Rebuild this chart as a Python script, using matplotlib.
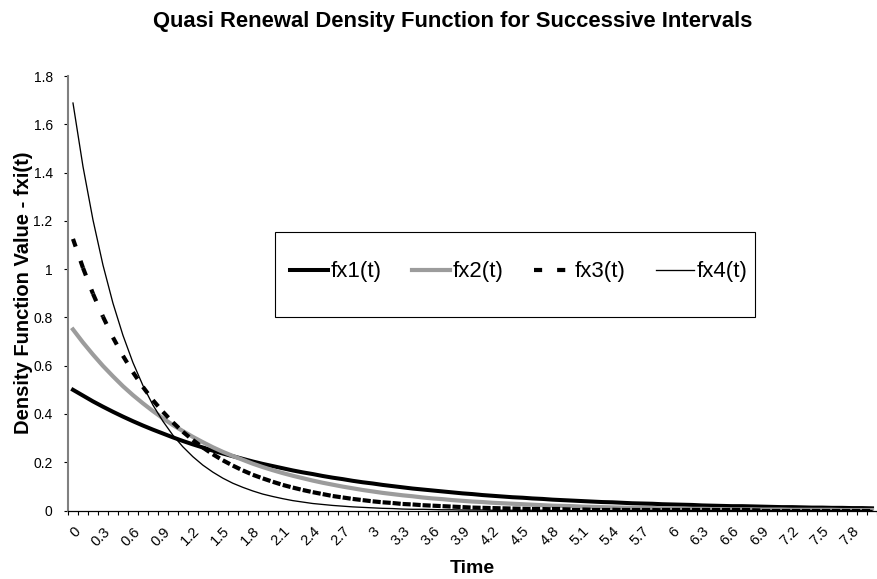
import numpy as np
import matplotlib
matplotlib.use("Agg")
import matplotlib.pyplot as plt
from matplotlib.collections import LineCollection
from matplotlib.lines import Line2D
from matplotlib.patches import Rectangle
from matplotlib.ticker import FixedLocator

plt.rcParams['font.family'] = ['Liberation Sans', 'DejaVu Sans']

time = [0.0, 0.1, 0.2, 0.3, 0.4, 0.5, 0.6, 0.7, 0.8, 0.9,
        1.0, 1.1, 1.2, 1.3, 1.4, 1.5, 1.6, 1.7, 1.8, 1.9,
        2.0, 2.1, 2.2, 2.3, 2.4, 2.5, 2.6, 2.7, 2.8, 2.9,
        3.0, 3.1, 3.2, 3.3, 3.4, 3.5, 3.6, 3.7, 3.8, 3.9,
        4.0, 4.1, 4.2, 4.3, 4.4, 4.5, 4.6, 4.7, 4.8, 4.9,
        5.0, 5.1, 5.2, 5.3, 5.4, 5.5, 5.6, 5.7, 5.8, 5.9,
        6.0, 6.1, 6.2, 6.3, 6.4, 6.5, 6.6, 6.7, 6.8, 6.9,
        7.0, 7.1, 7.2, 7.3, 7.4, 7.5, 7.6, 7.7, 7.8, 7.9,
        8.0]

fx1 = [0.500, 0.476, 0.452, 0.430, 0.409, 0.389, 0.370, 0.352, 0.335, 0.319,
       0.303, 0.288, 0.274, 0.261, 0.248, 0.236, 0.225, 0.214, 0.203, 0.193,
       0.184, 0.175, 0.166, 0.158, 0.151, 0.143, 0.136, 0.130, 0.123, 0.117,
       0.112, 0.106, 0.101, 0.096, 0.091, 0.087, 0.083, 0.079, 0.075, 0.071,
       0.068, 0.064, 0.061, 0.058, 0.055, 0.053, 0.050, 0.048, 0.045, 0.043,
       0.041, 0.039, 0.037, 0.035, 0.034, 0.032, 0.030, 0.029, 0.028, 0.026,
       0.025, 0.024, 0.023, 0.021, 0.020, 0.019, 0.018, 0.018, 0.017, 0.016,
       0.015, 0.014, 0.014, 0.013, 0.012, 0.012, 0.011, 0.011, 0.010, 0.010,
       0.009]

fx2 = [0.750, 0.696, 0.646, 0.599, 0.556, 0.515, 0.478, 0.444, 0.412, 0.382,
       0.354, 0.329, 0.305, 0.283, 0.262, 0.243, 0.226, 0.210, 0.194, 0.180,
       0.167, 0.155, 0.144, 0.134, 0.124, 0.115, 0.107, 0.099, 0.092, 0.085,
       0.079, 0.073, 0.068, 0.063, 0.059, 0.054, 0.050, 0.047, 0.043, 0.040,
       0.037, 0.035, 0.032, 0.030, 0.028, 0.026, 0.024, 0.022, 0.020, 0.019,
       0.018, 0.016, 0.015, 0.014, 0.013, 0.012, 0.011, 0.010, 0.010, 0.009,
       0.008, 0.008, 0.007, 0.007, 0.006, 0.006, 0.005, 0.005, 0.005, 0.004,
       0.004, 0.004, 0.003, 0.003, 0.003, 0.003, 0.003, 0.002, 0.002, 0.002,
       0.002]

fx3 = [1.125, 1.005, 0.898, 0.803, 0.717, 0.641, 0.573, 0.512, 0.457, 0.409,
       0.365, 0.326, 0.292, 0.261, 0.233, 0.208, 0.186, 0.166, 0.148, 0.133,
       0.119, 0.106, 0.095, 0.085, 0.076, 0.068, 0.060, 0.054, 0.048, 0.043,
       0.038, 0.034, 0.031, 0.027, 0.025, 0.022, 0.020, 0.018, 0.016, 0.014,
       0.012, 0.011, 0.010, 0.009, 0.008, 0.007, 0.006, 0.006, 0.005, 0.005,
       0.004, 0.004, 0.003, 0.003, 0.003, 0.002, 0.002, 0.002, 0.002, 0.001,
       0.001, 0.001, 0.001, 0.001, 0.001, 0.001, 0.001, 0.001, 0.001, 0.000,
       0.000, 0.000, 0.000, 0.000, 0.000, 0.000, 0.000, 0.000, 0.000, 0.000,
       0.000]

fx4 = [1.688, 1.425, 1.204, 1.017, 0.859, 0.726, 0.613, 0.518, 0.437, 0.370,
       0.312, 0.264, 0.223, 0.188, 0.159, 0.134, 0.113, 0.096, 0.081, 0.068,
       0.058, 0.049, 0.041, 0.035, 0.029, 0.025, 0.021, 0.018, 0.015, 0.013,
       0.011, 0.009, 0.008, 0.006, 0.005, 0.005, 0.004, 0.003, 0.003, 0.002,
       0.002, 0.002, 0.001, 0.001, 0.001, 0.001, 0.001, 0.001, 0.000, 0.000,
       0.000, 0.000, 0.000, 0.000, 0.000, 0.000, 0.000, 0.000, 0.000, 0.000,
       0.000, 0.000, 0.000, 0.000, 0.000, 0.000, 0.000, 0.000, 0.000, 0.000,
       0.000, 0.000, 0.000, 0.000, 0.000, 0.000, 0.000, 0.000, 0.000, 0.000,
       0.000]

series_names = ["fx1(t)", "fx2(t)", "fx3(t)", "fx4(t)"]
y_ticks = [0, 0.2, 0.4, 0.6, 0.8, 1.0, 1.2, 1.4, 1.6, 1.8]
y_tick_labels = ["0", "0.2", "0.4", "0.6", "0.8", "1", "1.2", "1.4", "1.6", "1.8"]
x_label_every = 3

W, H = 878, 579
fig = plt.figure(figsize=(W / 100, H / 100), dpi=100)
ax = fig.add_axes([68 / W, 1 - 510.5 / H, (877 - 68) / W, (510.5 - 76) / H])

x = np.arange(len(time))

# series
ax.plot(x, fx1, color='black', lw=2.9, solid_joinstyle='round', zorder=3)
ax.plot(x, fx2, color='#9c9c9c', lw=3.0, solid_joinstyle='round', zorder=4)
pts3 = np.column_stack([x, fx3])
segs = np.stack([pts3[:-1], pts3[1:]], axis=1)
dash3 = (0, (1.95, 3.6))
lc = LineCollection(segs, colors='black', linewidths=3.0, linestyles=[dash3],
                    capstyle='butt', zorder=5)
ax.add_collection(lc)
ax.plot(x, fx4, color='black', lw=0.95, zorder=6)

ax.set_xlim(-0.5, len(time) - 0.5)
ax.set_ylim(0, 1.8)

# axes styling
for s in ['top', 'right']:
    ax.spines[s].set_visible(False)
ax.spines['left'].set_color('#808080')
ax.spines['left'].set_linewidth(1.5)
ax.spines['bottom'].set_color('black')
ax.spines['bottom'].set_linewidth(0.9)

ax.set_yticks(y_ticks)
ax.set_yticklabels(y_tick_labels, fontsize=10)
ax.tick_params(axis='y', length=3, width=0.8, color='black', pad=8)

lab_pos = x[::x_label_every]
lab_txt = ['%g' % time[i] for i in lab_pos]
ax.set_xticks(lab_pos)
ax.set_xticklabels(lab_txt, fontsize=10.5, rotation=45, ha='right',
                   rotation_mode='anchor')
ax.tick_params(axis='x', which='major', length=0, pad=10)
ax.xaxis.set_minor_locator(FixedLocator(np.arange(len(time) + 1) - 0.5))
ax.tick_params(axis='x', which='minor', length=3, width=0.8, color='black')

ax.set_xlabel('Time', fontsize=14, fontweight='bold', labelpad=8)
ax.set_ylabel('Density Function Value - fxi(t)', fontsize=14.5,
              fontweight='bold', labelpad=0.5)

fig.text(453 / W, 1 - 22 / H, 'Quasi Renewal Density Function for Successive Intervals',
         ha='center', va='center', fontsize=15.8, fontweight='bold')

# legend box
fig.patches.append(Rectangle((275 / W, 1 - 317 / H), 480 / W, 85 / H,
                             transform=fig.transFigure, facecolor='white',
                             edgecolor='black', lw=0.8, zorder=8))
handles = [
    Line2D([], [], color='black', lw=2.9),
    Line2D([], [], color='#9c9c9c', lw=3.0),
    Line2D([], [], color='black', lw=3.0, linestyle=dash3, dash_capstyle='butt'),
    Line2D([], [], color='black', lw=0.95),
]
leg = fig.legend(handles, series_names, loc='center left',
                 bbox_to_anchor=(290 / W, 1 - 272 / H),
                 ncol=4, fontsize=16, handlelength=1.72, handletextpad=0.1,
                 columnspacing=1.38, borderpad=0, borderaxespad=0,
                 frameon=False)
leg.set_zorder(9)

fig.savefig('out.png', dpi=100)
